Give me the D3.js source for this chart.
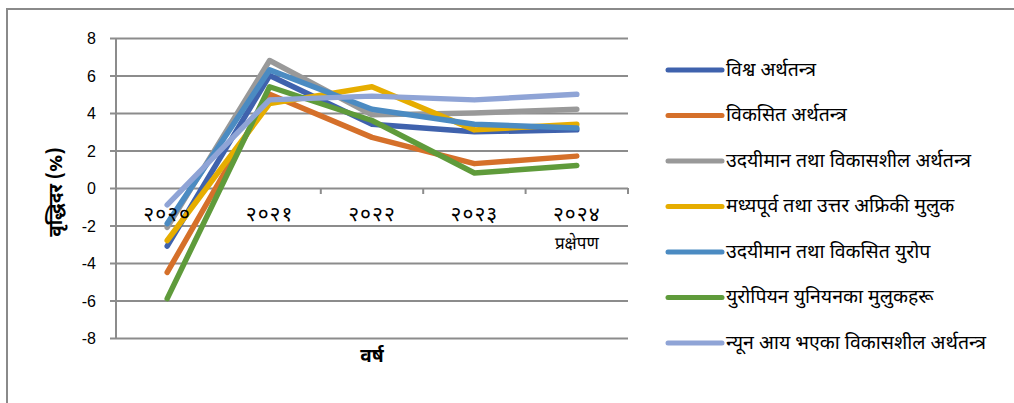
<!DOCTYPE html>
<html>
<head>
<meta charset="utf-8">
<script src="https://cdn.jsdelivr.net/npm/d3@7"></script>
<style>
  body { margin: 0; background: #fff; }
  text { fill: #000; }
  .deva { font-family: "Noto Sans Devanagari", "Lohit Devanagari", "Mangal", "Noto Sans", "DejaVu Sans", sans-serif; }
  .num { font-family: "Liberation Sans", Arial, sans-serif; }
</style>
</head>
<body>
<div id="chart"></div>
<script>
// categories and tick labels
const years = ["2020", "2021", "2022", "2023", "2024"]
const yearLabels = ["२०२०", "२०२१", "२०२२", "२०२३", "२०२४"]
const yTicks = [-8, -6, -4, -2, 0, 2, 4, 6, 8]

// series names (legend order)
const seriesNames = [
  "विश्व अर्थतन्त्र",
  "विकसित अर्थतन्त्र",
  "उदयीमान तथा विकासशील अर्थतन्त्र",
  "मध्यपूर्व तथा उत्तर अफ्रिकी मुलुक",
  "उदयीमान तथा विकसित युरोप",
  "युरोपियन युनियनका मुलुकहरू",
  "न्यून आय भएका विकासशील अर्थतन्त्र"
]

// growth rate values (%)
const world      = [-3.1, 6.0, 3.4, 3.0, 3.1]
const advanced   = [-4.5, 5.0, 2.7, 1.3, 1.7]
const emerging   = [-2.1, 6.8, 3.9, 4.0, 4.2]
const mena       = [-2.8, 4.5, 5.4, 3.1, 3.4]
const europe     = [-1.9, 6.3, 4.2, 3.4, 3.2]
const euCountries = [-5.9, 5.4, 3.6, 0.8, 1.2]
const lowIncome  = [-0.9, 4.7, 4.9, 4.7, 5.0]

const allSeries = [world, advanced, emerging, mena, europe, euCountries, lowIncome]
const colors = ["#3f62ad", "#d5702a", "#999999", "#e6ad00", "#4b8bc2", "#5f9b3b", "#8fa4d6"]

const width = 1014
const height = 403

let svg = d3.select("#chart")
            .append("svg")
            .attr("width", width)
            .attr("height", height)

// outer chart border (top and left visible)
svg.append("path")
   .attr("d", "M7,403 V9 H1014")
   .attr("fill", "none")
   .attr("stroke", "#8a8a8a")
   .attr("stroke-width", 2)

let xScale = d3.scaleBand()
               .domain(years)
               .range([116, 628])

let yScale = d3.scaleLinear()
               .domain([-8, 8])
               .range([338, 38])

// gridlines + y-axis labels
let yAxis = d3.axisLeft(yScale)
              .tickValues(yTicks)
              .tickSize(-(628 - 110))
              .tickFormat(d => String(d))

let yG = svg.append("g")
            .attr("transform", "translate(110,0)")
            .call(yAxis)
yG.select(".domain").remove()
yG.selectAll("line")
  .attr("stroke", "#8c8c8c")
  .attr("stroke-width", 2)
yG.selectAll("text")
  .attr("class", "num")
  .attr("x", -14)
  .attr("dy", "0.35em")
  .style("font-size", "16px")

// vertical axis line
svg.append("line")
   .attr("x1", 116).attr("x2", 116)
   .attr("y1", yScale(8)).attr("y2", yScale(-8))
   .attr("stroke", "#8c8c8c")
   .attr("stroke-width", 2)

// category tick marks on the zero line
let bounds = years.map(d => xScale(d)).concat([xScale.range()[1]])
svg.selectAll(".xtick")
   .data(bounds)
   .enter()
   .append("line")
   .attr("class", "xtick")
   .attr("x1", d => d).attr("x2", d => d)
   .attr("y1", yScale(0)).attr("y2", yScale(0) + 6)
   .attr("stroke", "#8c8c8c")
   .attr("stroke-width", 2)

// lines
let line = d3.line()
             .x((d, i) => xScale(years[i]) + xScale.bandwidth() / 2)
             .y(d => yScale(d))

svg.selectAll(".series")
   .data(allSeries)
   .enter()
   .append("path")
   .attr("class", "series")
   .attr("d", d => line(d))
   .attr("fill", "none")
   .attr("stroke", (d, i) => colors[i])
   .attr("stroke-width", 5.5)
   .attr("stroke-linejoin", "round")
   .attr("stroke-linecap", "round")

// category labels (drawn above the lines)
svg.selectAll(".xlabel")
   .data(years)
   .enter()
   .append("text")
   .attr("class", "deva xlabel")
   .attr("x", d => xScale(d) + xScale.bandwidth() / 2)
   .attr("y", 221)
   .attr("text-anchor", "middle")
   .style("font-size", "21px")
   .style("letter-spacing", "1px")
   .text((d, i) => yearLabels[i])

svg.append("text")
   .attr("class", "deva")
   .attr("x", xScale("2024") + xScale.bandwidth() / 2)
   .attr("y", 249)
   .attr("text-anchor", "middle")
   .style("font-size", "17px")
   .text("प्रक्षेपण")

// axis titles
svg.append("text")
   .attr("class", "deva")
   .attr("transform", "translate(62,192) rotate(-90)")
   .attr("text-anchor", "middle")
   .style("font-size", "19px")
   .style("font-weight", "bold")
   .text("वृद्धिदर (%)")

svg.append("text")
   .attr("class", "deva")
   .attr("x", 372)
   .attr("y", 362)
   .attr("text-anchor", "middle")
   .style("font-size", "19px")
   .style("font-weight", "bold")
   .text("वर्ष")

// legend
let legend = svg.append("g")
                .attr("id", "legend")

let rows = legend.selectAll("g")
                 .data(seriesNames)
                 .enter()
                 .append("g")
                 .attr("transform", (d, i) => "translate(0," + (70 + i * 45.5) + ")")

rows.append("line")
    .attr("x1", 668).attr("x2", 722)
    .attr("stroke", (d, i) => colors[i])
    .attr("stroke-width", 5)
    .attr("stroke-linecap", "round")

rows.append("text")
    .attr("class", "deva")
    .attr("x", 726)
    .attr("dy", "0.3em")
    .style("font-size", "19.5px")
    .text(d => d)
</script>
</body>
</html>
